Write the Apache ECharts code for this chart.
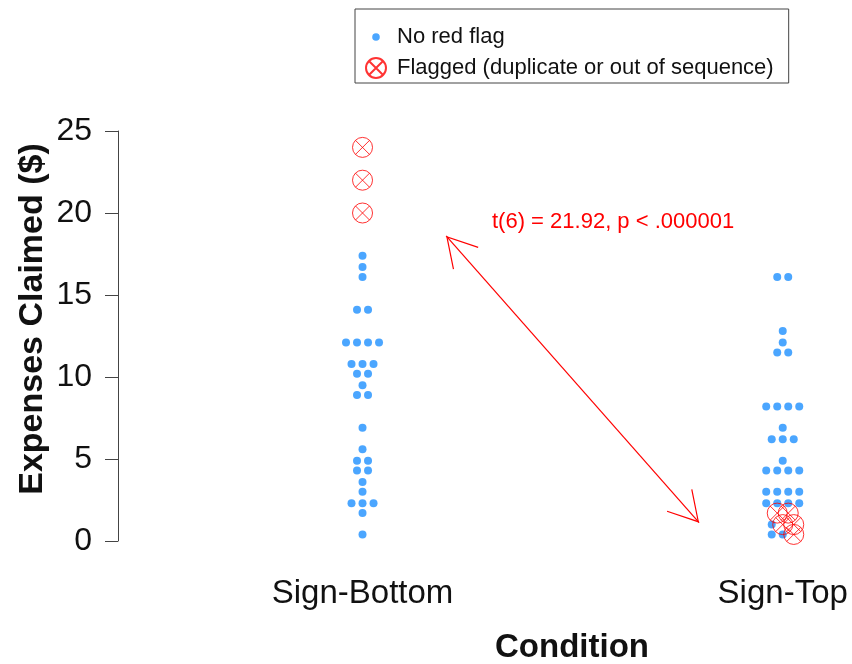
<!DOCTYPE html>
<html>
<head>
<meta charset="utf-8">
<title>Expenses Claimed by Condition</title>
<script src="https://cdn.jsdelivr.net/npm/echarts@6.0.0/dist/echarts.min.js"></script>
<style>
  html, body { margin: 0; padding: 0; background: #fff; }
  #chart { width: 852px; height: 664px; }
</style>
</head>
<body>
<div id="chart"></div>
<script>
// conditions (x positions 1 and 2)
const conditions = ['Sign-Bottom', 'Sign-Top']

// expenses claimed, one entry per participant
const bottomValues = [24, 22, 20, 17.4, 16.7, 16.1, 14.1, 14.1,
  12.1, 12.1, 12.1, 12.1, 10.8, 10.8, 10.8, 10.2, 10.2, 9.5, 8.9, 8.9,
  6.9, 5.6, 4.9, 4.9, 4.3, 4.3, 3.6, 3.0, 2.3, 2.3, 2.3, 1.7, 0.4]
const bottomFlags = [1, 1, 1, 0, 0, 0, 0, 0,
  0, 0, 0, 0, 0, 0, 0, 0, 0, 0, 0, 0,
  0, 0, 0, 0, 0, 0, 0, 0, 0, 0, 0, 0, 0]

const topValues = [16.1, 16.1, 12.8, 12.1, 11.5, 11.5,
  8.2, 8.2, 8.2, 8.2, 6.9, 6.2, 6.2, 6.2, 4.9,
  4.3, 4.3, 4.3, 4.3, 3.0, 3.0, 3.0, 3.0, 2.3, 2.3, 2.3, 2.3,
  1.7, 1.7, 1.0, 1.0, 1.0, 0.4, 0.4, 0.4]
const topFlags = [0, 0, 0, 0, 0, 0,
  0, 0, 0, 0, 0, 0, 0, 0, 0,
  0, 0, 0, 0, 0, 0, 0, 0, 0, 0, 0, 0,
  1, 1, 0, 1, 1, 0, 0, 1]

// t-test annotation and arrow ends (data coords)
const testLabel = 't(6) = 21.92, p < .000001'
const arrowFrom = [1.199, 18.6]
const arrowTo = [1.801, 1.12]

const FONT = '"Liberation Sans", Arial, Helvetica, sans-serif'
const BLUE = '#1E90FF'
const RED = '#FF0000'
const SWARM_STEP = 0.0262  // horizontal spacing of dots in a row (x units)

// spread equal values side by side, centred on the condition
function swarm(values, flags, center) {
  const out = { plain: [], flagged: [] }
  let i = 0
  while (i < values.length) {
    let j = i
    while (j < values.length && values[j] === values[i]) j++
    const n = j - i
    for (let k = 0; k < n; k++) {
      const x = center + (k - (n - 1) / 2) * SWARM_STEP
      const pt = [x, values[i + k]]
      if (flags[i + k]) out.flagged.push(pt)
      else out.plain.push(pt)
    }
    i = j
  }
  return out
}

const b = swarm(bottomValues, bottomFlags, 1)
const t = swarm(topValues, topFlags, 2)

const flagSymbol = 'path://M-10,0A10,10 0 1,0 10,0A10,10 0 1,0 -10,0Z' +
  'M-7.07,-7.07L7.07,7.07M-7.07,7.07L7.07,-7.07'
// legend icons padded to the same 32x20 box so dot and cross keep their sizes
const legendDot = 'path://M-16,-10M16,10M-3.8,0A3.8,3.8 0 1,0 3.8,0A3.8,3.8 0 1,0 -3.8,0Z'
const legendFlag = 'path://M-16,-10M16,10M-10,0A10,10 0 1,0 10,0A10,10 0 1,0 -10,0Z' +
  'M-7.07,-7.07L7.07,7.07M-7.07,7.07L7.07,-7.07'
// open arrow head (30 deg, 34px arms), tip at the centre of the box
const arrowHead = 'path://M-35,-35M35,35M0,0L17,29.44L15.96,30.04L0,2.4L-15.96,30.04L-17,29.44Z'

const chart = echarts.init(document.getElementById('chart'))

chart.setOption({
  backgroundColor: '#fff',
  animation: false,
  textStyle: { fontFamily: FONT },
  grid: { left: 118, right: 22, top: 131, bottom: 123 },
  legend: {
    orient: 'vertical',
    left: 355,
    top: 9,
    padding: [17, 15, 4, 4],
    itemGap: 9,
    itemWidth: 32,
    itemHeight: 20,
    borderColor: '#444',
    borderWidth: 1,
    borderRadius: 0,
    textStyle: { fontFamily: FONT, fontSize: 22, color: '#111', lineHeight: 20 },
    data: [
      { name: 'No red flag', icon: legendDot },
      { name: 'Flagged (duplicate or out of sequence)', icon: legendFlag }
    ]
  },
  xAxis: {
    type: 'value',
    min: 0.4181,
    max: 2.1125,
    axisLine: { show: false },
    axisTick: { show: false },
    splitLine: { show: false },
    axisLabel: {
      customValues: [1, 2],
      formatter: v => conditions[Math.round(v) - 1],
      fontSize: 33,
      fontFamily: FONT,
      color: '#111',
      margin: 36
    }
  },
  yAxis: {
    type: 'value',
    min: 0,
    max: 25,
    interval: 5,
    axisLine: { show: true, lineStyle: { color: '#444', width: 1 } },
    axisTick: { show: true, length: 13, lineStyle: { color: '#444', width: 1 } },
    splitLine: { show: false },
    axisLabel: { fontSize: 32, fontFamily: FONT, color: '#111', margin: 26 }
  },
  graphic: [
    {
      type: 'text',
      x: 33, y: 319, rotation: Math.PI / 2,
      style: {
        text: 'Expenses Claimed ($)', fontSize: 34, fontWeight: 'bold',
        fontFamily: FONT, fill: '#111', align: 'center', verticalAlign: 'middle'
      }
    },
    {
      type: 'text',
      x: 572, y: 648,
      style: {
        text: 'Condition', fontSize: 33, fontWeight: 'bold',
        fontFamily: FONT, fill: '#111', align: 'center', verticalAlign: 'middle'
      }
    },
    {
      type: 'text',
      x: 492, y: 222,
      style: {
        text: testLabel, fontSize: 22, fontFamily: FONT, fill: RED,
        align: 'left', verticalAlign: 'middle'
      }
    }
  ],
  series: [
    {
      name: 'No red flag',
      type: 'scatter',
      symbol: 'circle',
      symbolSize: 8,
      itemStyle: { color: BLUE },
      data: b.plain.concat(t.plain),
      z: 2,
      markLine: {
        silent: true,
        symbol: [arrowHead, arrowHead],
        symbolSize: 70,
        label: { show: false },
        lineStyle: { color: RED, width: 1.2, type: 'solid' },
        emphasis: { disabled: true },
        data: [[{ coord: arrowFrom }, { coord: arrowTo }]]
      }
    },
    {
      name: 'Flagged (duplicate or out of sequence)',
      type: 'scatter',
      symbol: flagSymbol,
      symbolSize: 20,
      itemStyle: { color: 'rgba(0,0,0,0)', borderColor: RED, borderWidth: 1 },
      data: b.flagged.concat(t.flagged),
      z: 3
    }
  ]
})
</script>
</body>
</html>
